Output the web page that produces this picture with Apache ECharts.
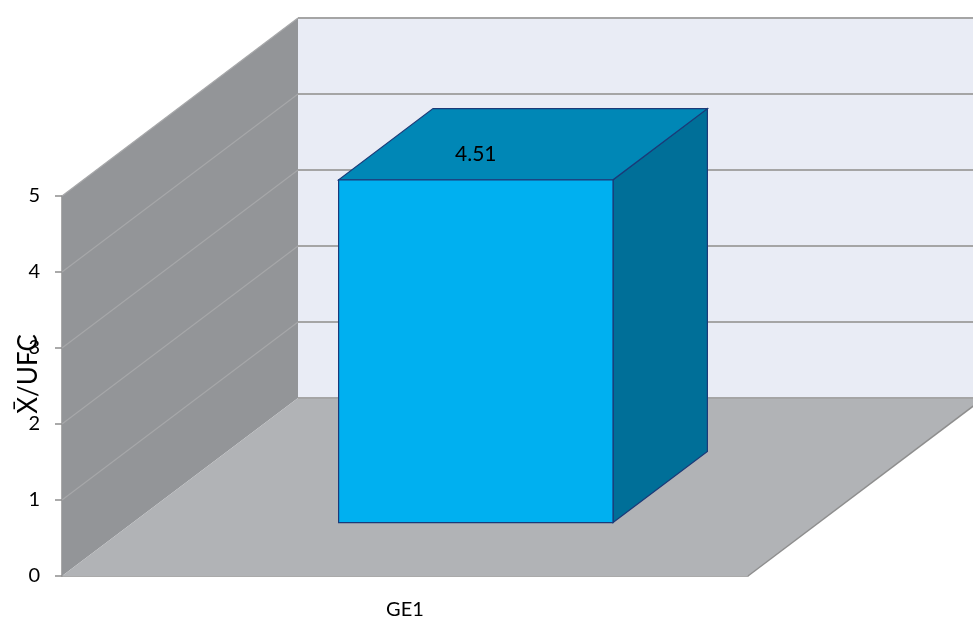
<!DOCTYPE html>
<html>
<head>
<meta charset="UTF-8">
<title>GE1</title>
<script src="https://cdn.jsdelivr.net/npm/echarts@6/dist/echarts.min.js"></script>
<style>
  html, body { margin: 0; padding: 0; background: #fff; }
  #chart { width: 973px; height: 623px; }
</style>
</head>
<body>
<div id="chart"></div>
<script>
// data
const categories = ['GE1'];
const values = [4.51];
const yMin = 0, yMax = 5, yStep = 1;

// 3D look: depth vector of the box (px) and bar placement inside it
const DX = 236, DY = -178;
const barFront = 0.30, barBack = 0.70, barWidth = 0.4;

const chart = echarts.init(document.getElementById('chart'));

function wallsItem(params, api) {
  const cs = params.coordSys;
  const x = cs.x, w = cs.width;
  const yb = api.coord([0, yMin])[1];
  const yt = api.coord([0, yMax])[1];
  const kids = [];
  // left wall
  kids.push({ type: 'polygon', shape: { points: [[x, yb], [x, yt], [x + DX, yt + DY], [x + DX, yb + DY]] },
    style: { fill: '#939598', stroke: null } });
  // back wall
  kids.push({ type: 'polygon', shape: { points: [[x + DX, yt + DY], [x + DX + w, yt + DY], [x + DX + w, yb + DY], [x + DX, yb + DY]] },
    style: { fill: '#e9ecf5', stroke: null } });
  // floor
  kids.push({ type: 'polygon', shape: { points: [[x, yb], [x + w, yb], [x + w + DX, yb + DY], [x + DX, yb + DY]] },
    style: { fill: '#b1b3b6', stroke: null } });
  kids.push({ type: 'line', shape: { x1: x + w, y1: yb, x2: x + w + DX, y2: yb + DY },
    style: { stroke: '#8e8e8e', lineWidth: 1.5 } });
  // gridlines
  for (let v = yMin; v <= yMax; v += yStep) {
    const yk = api.coord([0, v])[1];
    if (v > yMin) {
      kids.push({ type: 'line', shape: { x1: x, y1: yk, x2: x + DX, y2: yk + DY },
        style: { stroke: '#a6a7a9', lineWidth: 1.2 } });
    }
    kids.push({ type: 'line', shape: { x1: x + DX, y1: yk + DY, x2: x + DX + w, y2: yk + DY },
      style: { stroke: '#a5a5a5', lineWidth: 2 } });
  }
  return { type: 'group', children: kids };
}

function barItem(params, api) {
  const cat = api.value(0), val = api.value(1);
  const base = api.coord([cat, yMin]);
  const top = api.coord([cat, val]);
  const bw = api.size([1, 0])[0] * barWidth;
  const fx = barFront * DX, fy = barFront * DY;
  const d = barBack - barFront;
  const bx = d * DX, by = d * DY;
  const x0 = base[0] - bw / 2 + fx, x1 = base[0] + bw / 2 + fx;
  const yB = base[1] + fy, yT = top[1] + fy;
  const edge = { stroke: '#1b3a78', lineWidth: 1.2 };
  return {
    type: 'group',
    children: [
      { type: 'polygon', shape: { points: [[x1, yB], [x1, yT], [x1 + bx, yT + by], [x1 + bx, yB + by]] },
        style: Object.assign({ fill: '#006f98' }, edge) },
      { type: 'polygon', shape: { points: [[x0, yT], [x1, yT], [x1 + bx, yT + by], [x0 + bx, yT + by]] },
        style: Object.assign({ fill: '#0087b6' }, edge) },
      { type: 'rect', shape: { x: x0, y: yT, width: x1 - x0, height: yB - yT },
        style: Object.assign({ fill: '#00b0f0' }, edge) },
      { type: 'text', x: (x0 + x1) / 2, y: yT - 26,
        style: { text: String(val), fill: '#000', font: '21px Lato, "Liberation Sans", sans-serif',
          align: 'center', verticalAlign: 'middle' } }
    ]
  };
}

chart.setOption({
  animation: false,
  backgroundColor: '#ffffff',
  grid: { left: 62, top: 196, right: 225, bottom: 47, outerBoundsMode: 'none', containLabel: false },
  xAxis: {
    type: 'category',
    data: categories,
    axisLine: { lineStyle: { color: '#8e8e8e', width: 1.5 } },
    axisTick: { length: 7, lineStyle: { color: '#8e8e8e', width: 1.5 } },
    axisLabel: { color: '#000', fontSize: 20, margin: 24, fontFamily: 'Lato, "Liberation Sans", sans-serif' }
  },
  yAxis: {
    type: 'value',
    min: yMin, max: yMax, interval: yStep,
    name: 'X\u0304/UFC',
    nameLocation: 'middle',
    nameRotate: 90,
    nameGap: 20,
    nameMoveOverlap: false,
    nameTextStyle: { color: '#000', fontSize: 26, fontFamily: 'Lato, "Liberation Sans", sans-serif', padding: [0, 0, 0, 24] },
    axisLine: { show: true, lineStyle: { color: '#8e8e8e', width: 1.5 } },
    axisTick: { show: true, length: 7, lineStyle: { color: '#8e8e8e', width: 1.5 } },
    axisLabel: { color: '#000', fontSize: 20, margin: 22, fontFamily: 'Lato, "Liberation Sans", sans-serif' },
    splitLine: { show: false }
  },
  series: [
    { type: 'custom', renderItem: wallsItem, data: [[0, 0]], z: 1, silent: true },
    { type: 'custom', renderItem: barItem, encode: { x: 0, y: 1 },
      data: categories.map((c, i) => [i, values[i]]), z: 2 }
  ]
});
</script>
</body>
</html>
